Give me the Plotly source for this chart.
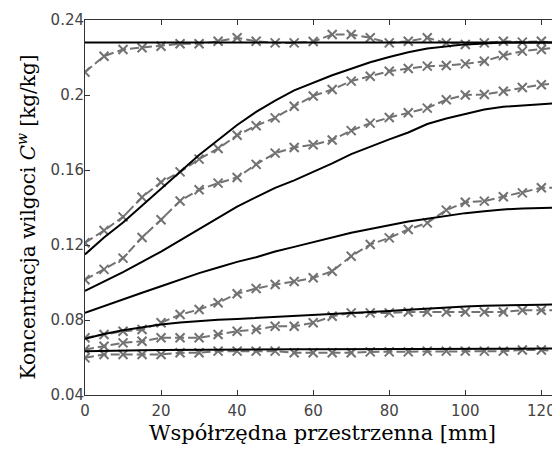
import plotly.graph_objects as go

x_mm = [0, 5, 10, 15, 20, 25, 30, 35, 40, 45, 50, 55, 60, 65, 70, 75, 80, 85, 90, 95, 100, 105, 110, 115, 120, 125]

# model (solid black)
model_1 = [0.228] * 26
model_2 = [0.115, 0.124, 0.132, 0.141, 0.150, 0.159, 0.168, 0.176, 0.184, 0.191, 0.197, 0.2025, 0.2065,
           0.2105, 0.214, 0.2175, 0.2203, 0.2228, 0.2248, 0.226, 0.227, 0.2275, 0.228, 0.228, 0.228, 0.228]
model_3 = [0.0955, 0.1005, 0.1055, 0.111, 0.1165, 0.1225, 0.1285, 0.1345, 0.1405, 0.1455, 0.1505, 0.1545,
           0.159, 0.1635, 0.1685, 0.1725, 0.1763, 0.180, 0.1845, 0.1875, 0.190, 0.1923, 0.1937, 0.1945, 0.1952, 0.1958]
model_4 = [0.0838, 0.0875, 0.091, 0.0945, 0.098, 0.1015, 0.105, 0.108, 0.111, 0.1135, 0.1165, 0.119, 0.1215,
           0.124, 0.1265, 0.1285, 0.1305, 0.1325, 0.134, 0.1355, 0.137, 0.138, 0.139, 0.1395, 0.1398, 0.140]
model_5 = [0.070, 0.0725, 0.0745, 0.0762, 0.0776, 0.0787, 0.0795, 0.0801, 0.0806, 0.0811, 0.0816, 0.082, 0.0825,
           0.083, 0.0836, 0.0842, 0.0848, 0.0855, 0.0862, 0.0868, 0.0872, 0.0876, 0.0879, 0.0881, 0.0882, 0.0883]
model_6 = [0.0633, 0.0636, 0.0638, 0.0639, 0.064, 0.0641, 0.0641, 0.0642, 0.0642, 0.0643, 0.0643, 0.0644, 0.0644,
           0.0644, 0.0645, 0.0645, 0.0645, 0.0646, 0.0646, 0.0646, 0.0647, 0.0647, 0.0647, 0.0648, 0.0648, 0.0648]

# measurements (gray dashed with x markers)
meas_1 = [0.2122, 0.2207, 0.2243, 0.2252, 0.226, 0.2273, 0.2273, 0.2287, 0.2305, 0.2287, 0.2278, 0.2278, 0.2285,
          0.2323, 0.2323, 0.2305, 0.2278, 0.2287, 0.2305, 0.2278, 0.2269, 0.2278, 0.2287, 0.2282, 0.2287, 0.2269]
meas_2 = [0.1212, 0.1277, 0.135, 0.1455, 0.1535, 0.159, 0.1658, 0.1715, 0.1785, 0.1836, 0.1878, 0.194, 0.1995,
          0.2029, 0.2074, 0.21, 0.2127, 0.2141, 0.2154, 0.2157, 0.2166, 0.218, 0.2211, 0.2234, 0.2243, 0.2255]
meas_3 = [0.1015, 0.107, 0.113, 0.124, 0.1335, 0.1435, 0.1495, 0.153, 0.156, 0.163, 0.169, 0.172, 0.1735,
          0.176, 0.181, 0.185, 0.188, 0.1905, 0.193, 0.1975, 0.2, 0.2003, 0.202, 0.204, 0.2055, 0.2065]
meas_4 = [0.0705, 0.0723, 0.074, 0.0749, 0.0785, 0.0829, 0.0856, 0.0892, 0.094, 0.0968, 0.0989, 0.1005, 0.1025,
          0.106, 0.114, 0.1203, 0.1238, 0.1283, 0.1318, 0.1386, 0.1428, 0.1434, 0.1457, 0.1478, 0.1505, 0.1505]
meas_5 = [0.0643, 0.066, 0.0678, 0.0687, 0.0705, 0.0705, 0.0705, 0.0723, 0.074, 0.0749, 0.0767, 0.0767, 0.0785,
          0.082, 0.0838, 0.0838, 0.0838, 0.0843, 0.0843, 0.0843, 0.0843, 0.0843, 0.0843, 0.0852, 0.0852, 0.0852]
meas_6 = [0.0598, 0.0616, 0.0616, 0.0616, 0.0616, 0.0625, 0.0625, 0.0634, 0.0634, 0.0634, 0.0634, 0.0625, 0.0625,
          0.0625, 0.0625, 0.063, 0.063, 0.063, 0.0634, 0.0634, 0.0634, 0.0634, 0.0634, 0.064, 0.064, 0.0634]

x_ticks = [0, 20, 40, 60, 80, 100, 120]
y_ticks = [0.04, 0.08, 0.12, 0.16, 0.20, 0.24]
y_tick_text = ["0.04", "0.08", "0.12", "0.16", "0.2", "0.24"]

x_title = "Współrzędna przestrzenna [mm]"
y_title = "Koncentracja wilgoci <i>C</i><sup><i>w</i></sup> [kg/kg]"

GRAY = "#727272"

fig = go.Figure()
for m in [meas_1, meas_2, meas_3, meas_4, meas_5, meas_6]:
    fig.add_trace(go.Scatter(
        x=x_mm, y=m, mode="lines+markers",
        line=dict(color=GRAY, width=2, dash="9px,4px"),
        marker=dict(symbol="x-thin", size=9, color=GRAY, line=dict(color=GRAY, width=2)),
        showlegend=False, hoverinfo="skip"))
for m in [model_1, model_2, model_3, model_4, model_5, model_6]:
    fig.add_trace(go.Scatter(
        x=x_mm, y=m, mode="lines",
        line=dict(color="black", width=2),
        showlegend=False, hoverinfo="skip"))

axis_common = dict(
    showgrid=False, zeroline=False, showline=True, linecolor="#333333", linewidth=1,
    mirror="ticks", ticks="inside", ticklen=5, tickcolor="#333333", tickwidth=1,
    tickfont=dict(family="DejaVu Sans, sans-serif", size=15, color="#444444"),
)

TITLE_FONT = dict(family="DejaVu Serif, serif", size=21, color="black")

fig.update_layout(
    width=552, height=442,
    margin=dict(l=77, r=0, t=12, b=55),
    paper_bgcolor="white", plot_bgcolor="white",
    xaxis=dict(range=[0, 124.9], tickvals=x_ticks, ticklabelstandoff=2, **axis_common,
               title=dict(text=x_title, standoff=6, font=TITLE_FONT)),
    yaxis=dict(range=[0.04, 0.24], tickvals=y_ticks, ticktext=y_tick_text,
               ticklabelstandoff=-3, **axis_common),
)
fig.add_annotation(
    text=y_title, textangle=-90, font=dict(family="DejaVu Serif, serif", size=20, color="black"),
    xref="paper", yref="paper", x=0, y=0.5, xanchor="center", yanchor="middle",
    xshift=-59, yshift=-10, showarrow=False)

fig.write_html("out.html")
